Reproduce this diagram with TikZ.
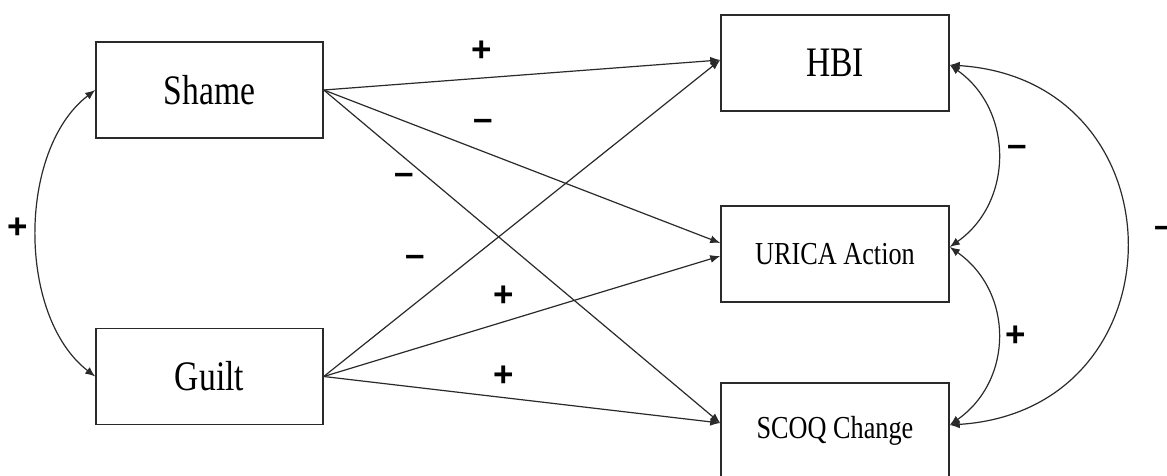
\documentclass[tikz,border=0pt]{standalone}
\usepackage{fontspec}
\setmainfont{Liberation Serif}
\newfontfamily\bigboxfont{Liberation Serif}[FakeStretch=0.8]
\newfontfamily\smallboxfont{Liberation Serif}[FakeStretch=0.82]
\newfontfamily\signfont{Liberation Sans}
\usetikzlibrary{arrows.meta}
\definecolor{ln}{HTML}{2A2A2A}
\tikzset{
  box/.style={draw=ln, line width=1.5pt, minimum width=227pt, minimum height=96pt, inner sep=0pt},
  bigtext/.style={font=\bigboxfont\fontsize{42}{46}\selectfont},
  smalltext/.style={font=\smallboxfont\fontsize{32}{36}\selectfont},
  conn/.style={draw=ln, line width=1.2pt, -{Latex[length=10pt,width=8pt]}},
  dconn/.style={draw=ln, line width=1.2pt, {Latex[length=10pt,width=8pt]}-{Latex[length=10pt,width=8pt]}},
  sign/.style={font=\signfont\bfseries\fontsize{35}{38}\selectfont, inner sep=0pt}
}
\begin{document}
\begin{tikzpicture}[x=1pt,y=-1pt]
\useasboundingbox (0,0) rectangle (1167,476);
\fill[white] (0,0) rectangle (1167,476);
% boxes
\node[box, bigtext] (shame) at (209.5,90) {Shame};
\node[box, bigtext] (guilt) at (209.5,376.5) {Guilt};
\node[box, minimum width=228pt, bigtext] (hbi) at (835,63) {HBI};
\node[box, minimum width=228pt, smalltext] (urica) at (835,254) {URICA Action};
\node[box, minimum width=228pt, smalltext] (scoq) at (835,431) {SCOQ Change};
% paths
\draw[conn] (shame.east) -- ([yshift=3pt]hbi.west);
\draw[conn] (shame.east) -- ([yshift=11pt]urica.west);
\draw[conn] (shame.east) -- ([yshift=8pt]scoq.west);
\draw[conn] (guilt.east) -- ([yshift=3pt]hbi.west);
\draw[conn] (guilt.east) -- ([yshift=-2pt]urica.west);
\draw[conn] (guilt.east) -- ([yshift=8pt]scoq.west);
% correlations
\draw[dconn] (shame.west) .. controls +(-78,60) and +(-78,-60) .. (guilt.west);
\draw[dconn] ([yshift=-2pt]hbi.east) .. controls +(64,45) and +(64,-45) .. ([yshift=7pt]urica.east);
\draw[dconn] ([yshift=7pt]urica.east) .. controls +(64,45) and +(64,-45) .. ([yshift=6pt]scoq.east);
\draw[dconn] ([yshift=-2pt]hbi.east) .. controls +(235,15) and +(235,-15) .. ([yshift=6pt]scoq.east);
% signs
\node[sign] (s1) at (18,228) {+};
\node[sign] (s2) at (482,51) {+};
\node[sign] (s3) at (483,125) {–};
\node[sign] (s4) at (404,179) {–};
\node[sign] (s5) at (415,261) {–};
\node[sign] (s6) at (504,296) {+};
\node[sign] (s7) at (504,376) {+};
\node[sign] (s8) at (1017,151) {–};
\node[sign] (s9) at (1016,336) {+};
\node[sign] (s10) at (1164,232) {–};
\end{tikzpicture}
\end{document}
